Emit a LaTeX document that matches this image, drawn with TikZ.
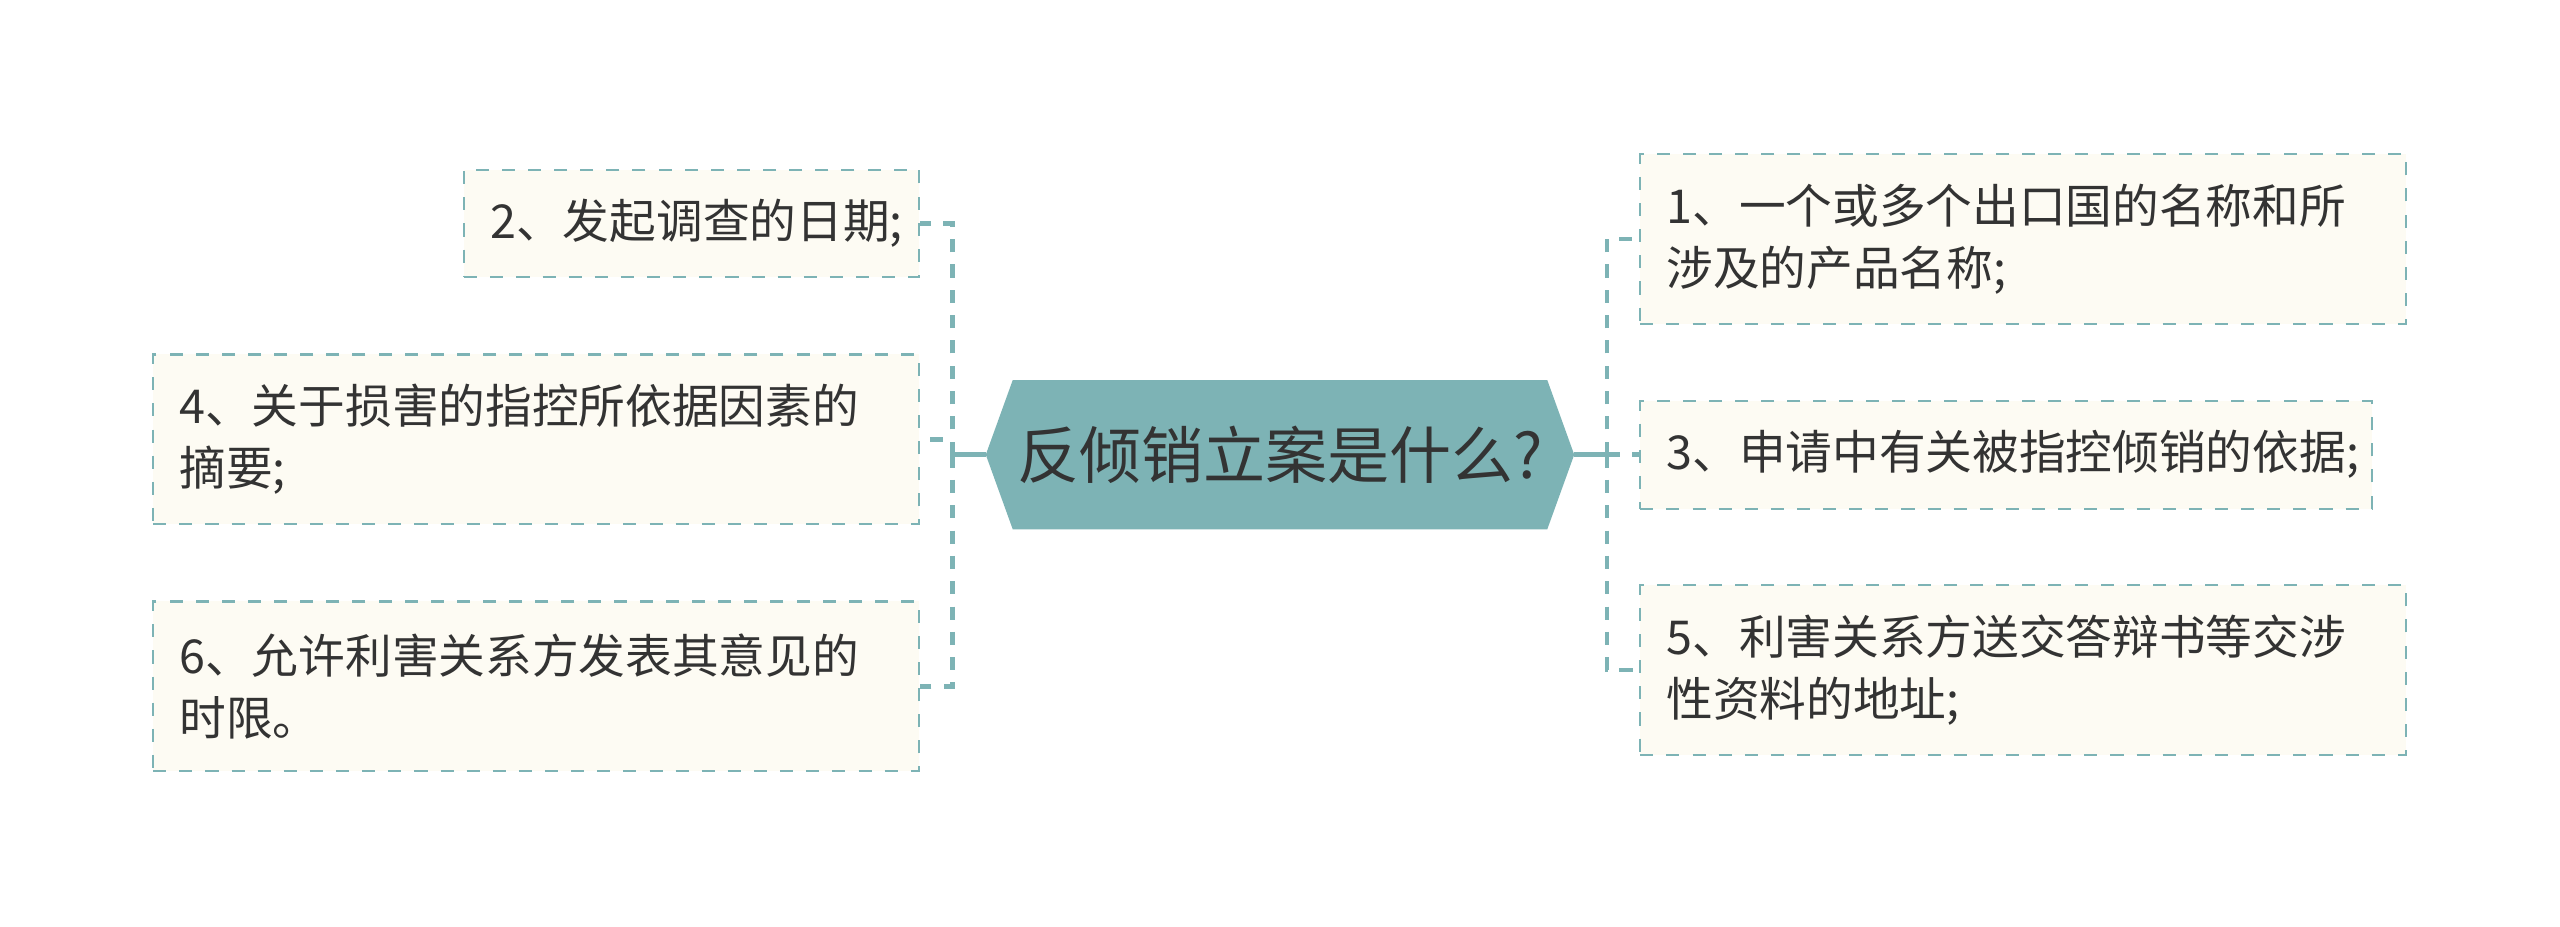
\documentclass[tikz,border=0pt]{standalone}
\usepackage{fontspec}
\setmainfont{Noto Sans CJK SC}
\usepackage{tikz}
\usetikzlibrary{math}
\usetikzlibrary{positioning,backgrounds}
\usepackage{xcolor}
\definecolor{mapteal}{HTML}{7DB3B5}
\definecolor{mapcream}{HTML}{FDFBF3}
\definecolor{maptext}{HTML}{333333}

\begin{document}
\begin{tikzpicture}[x=1pt,y=1pt]

\tikzmath{
	\T = 16.5;
}

\tikzset{topic box/.style 2 args={
    draw=mapteal, fill=mapcream,
    line width=1.3pt, dash pattern=on 8pt off 8pt,
    text=maptext, font=\fontsize{28.6}{38}\selectfont,
    text width=#1, minimum height=#2,
    align=left, inner xsep=16pt, inner ysep=0pt
  },
  root box/.style={
    text=maptext, font=\fontsize{38}{45}\selectfont,
    minimum width=327pt, minimum height=91pt, inner sep=0pt
  },
  stem/.style={draw=mapteal, line width=2.7pt},
  branch/.style={stem, dash pattern=on 8pt off 7.5pt}
}

\useasboundingbox (0,0) rectangle (1568,567.2);

\node[root box] (root) at (784,288.7) {反倾销立案是什么?};

% right side
\node[topic box={437pt}{104pt}, anchor=west] (sub1) at (1004,420.8)
  {1、一个或多个出口国的名称和所\\涉及的产品名称;};
\node[topic box={416pt}{66pt}, anchor=west] (sub3) at (1004,288.7)
  {3、申请中有关被指控倾销的依据;};
\node[topic box={437pt}{104pt}, anchor=west] (sub5) at (1004,156.8)
  {5、利害关系方送交答辩书等交涉\\性资料的地址;};

% left side
\node[topic box={246.5pt}{66pt}, anchor=east] (sub2) at (563.5,430.3)
  {2、发起调查的日期;};
\node[topic box={437pt}{104pt}, anchor=east] (sub4) at (563.5,298.1)
  {4、关于损害的指控所依据因素的\\摘要;};
\node[topic box={437pt}{104pt}, anchor=east] (sub6) at (563.5,146.8)
  {6、允许利害关系方发表其意见的\\时限。};

\coordinate (tipL) at ([xshift=-\T]root.west);
\coordinate (tipR) at ([xshift=\T]root.east);
\coordinate (jL) at ([xshift=-20.3]tipL);
\coordinate (jR) at ([xshift=20.1]tipR);

\begin{scope}[on background layer]
\fill[white] (0,0) rectangle (1568,567.2);
\fill[mapteal] (tipL) -- (root.north west) -- (root.north east) -- (tipR)
  -- (root.south east) -- (root.south west) -- cycle;
\end{scope}

\draw[stem] (tipR) -- (jR);
\draw[stem] (tipL) -- (jL);

\foreach \s in {sub1,sub3,sub5}
  \draw[branch] (jR) |- (\s.west);
\foreach \s in {sub2,sub4,sub6}
  \draw[branch] (jL) |- (\s.east);

\end{tikzpicture}
\end{document}
